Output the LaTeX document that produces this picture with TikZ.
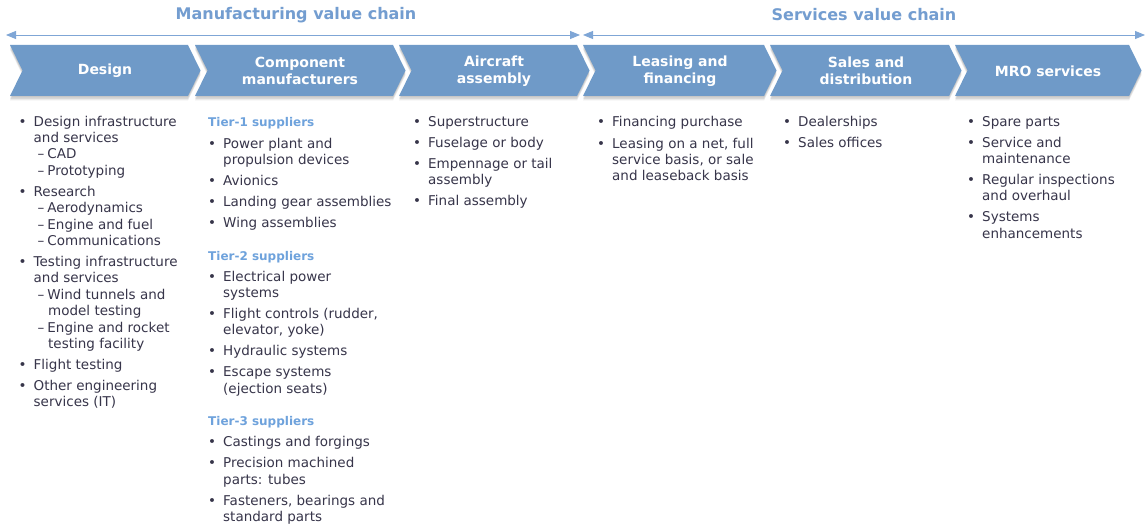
\documentclass[tikz,border=0pt]{standalone}
\usepackage{fontspec}
\setmainfont{DejaVu Sans}
\usetikzlibrary{arrows.meta}
\definecolor{chevblue}{HTML}{6F9AC8}
\definecolor{lineblue}{HTML}{7FA6D6}
\definecolor{titleblue}{HTML}{739DD0}
\definecolor{tierblue}{HTML}{6EA2DC}
\definecolor{bodytext}{HTML}{37354A}
\newcommand\bu{\makebox[15pt][l]{•}}
\newcommand\ind{\hspace*{15pt}}
\newcommand\subi{\hspace*{19pt}–\hspace{3pt}}
\newcommand\subc{\hspace*{29.5pt}}
\newcommand\tier[1]{{\color{tierblue}\fontsize{12}{16.4}\selectfont\bfseries #1}}
\tikzset{
  chevshade/.style={fill=black, fill opacity=0.08},
  chev/.style={fill=chevblue},
  chevlabel/.style={text=white, font=\fontsize{14}{17}\selectfont\bfseries, align=center, inner sep=0pt},
  title/.style={text=titleblue, font=\fontsize{16}{18}\selectfont\bfseries, inner sep=0pt},
  conn/.style={draw=lineblue, line width=0.9pt, {Triangle[length=10pt,width=8pt]}-{Triangle[length=10pt,width=8pt]}},
  col/.style={anchor=north west, align=left, inner sep=0pt, text=bodytext, font=\fontsize{13.5}{16.4}\selectfont}
}
\newcommand\chevpath[3]{\path[#1] (#2,45) -- (#3,45) -- ++(12.5,25.5) -- ++(-12.5,25.5) -- (#2,96) -- ++(12.5,-25.5) -- cycle;}
\begin{document}
\begin{tikzpicture}[x=1pt,y=-1pt]
\useasboundingbox[fill=white] (0,0) rectangle (1147,532);
% titles
\node[title] (mtitle) at (296,15) {Manufacturing value chain};
\node[title] (stitle) at (864,15) {Services value chain};
% arrows
\coordinate (mL) at (6,35);
\coordinate (mR) at (580,35);
\coordinate (sL) at (583,35);
\coordinate (sR) at (1145,35);
\draw[conn] (mL) -- (mR);
\draw[conn] (sL) -- (sR);
% soft shadows below the chevrons
\foreach \s in {1.5,3,4.5}{
  \foreach \a/\b in {10/188,195/393,399/577,583/764,770/949,955/1129}{
    \begin{scope}[yshift=-\s pt]
      \chevpath{chevshade}{\a}{\b}
    \end{scope}
  }
}
\foreach \a/\b in {10/188,195/393,399/577,583/764,770/949,955/1129}{
  \chevpath{chev}{\a}{\b}
}
\node[chevlabel] (design) at (105,71) {Design};
\node[chevlabel] (comp) at (300,71) {Component\\manufacturers};
\node[chevlabel] (assembly) at (494,71) {Aircraft\\assembly};
\node[chevlabel] (leasing) at (680,71) {Leasing and\\financing};
\node[chevlabel] (sales) at (866,71) {Sales and\\distribution};
\node[chevlabel] (mro) at (1048,71) {MRO services};
% column 1
\node[col] (c1) at (18.5,114.5) {\strut\bu Design infrastructure\\
\ind and services\\
\subi CAD\\
\subi Prototyping\\[4.6pt]
\bu Research\\
\subi Aerodynamics\\
\subi Engine and fuel\\
\subi Communications\\[4.6pt]
\bu Testing infrastructure\\
\ind and services\\
\subi Wind tunnels and\\
\subc model testing\\
\subi Engine and rocket\\
\subc testing facility\\[4.6pt]
\bu Flight testing\\[4.6pt]
\bu Other engineering\\
\ind services (IT)};
% column 2
\node[col] (c2) at (208,114.5) {\strut\tier{Tier-1 suppliers}\\[5.6pt]
\bu Power plant and\\
\ind propulsion devices\\[4.6pt]
\bu Avionics\\[4.6pt]
\bu Landing gear assemblies\\[4.6pt]
\bu Wing assemblies\\[16.2pt]
\tier{Tier-2 suppliers}\\[4.6pt]
\bu Electrical power\\
\ind systems\\[4.6pt]
\bu Flight controls (rudder,\\
\ind elevator, yoke)\\[4.6pt]
\bu Hydraulic systems\\[4.6pt]
\bu Escape systems\\
\ind (ejection seats)\\[16.2pt]
\tier{Tier-3 suppliers}\\[4.6pt]
\bu Castings and forgings\\[4.6pt]
\bu Precision machined\\
\ind parts: tubes\\[4.6pt]
\bu Fasteners, bearings and\\
\ind standard parts};
% column 3
\node[col] (c3) at (413,114.5) {\strut\bu Superstructure\\[4.6pt]
\bu Fuselage or body\\[4.6pt]
\bu Empennage or tail\\
\ind assembly\\[4.6pt]
\bu Final assembly};
% column 4
\node[col] (c4) at (597,114.5) {\strut\bu Financing purchase\\[5.6pt]
\bu Leasing on a net, full\\
\ind service basis, or sale\\
\ind and leaseback basis};
% column 5
\node[col] (c5) at (783,114.5) {\strut\bu Dealerships\\[4.6pt]
\bu Sales offices};
% column 6
\node[col] (c6) at (967,114.5) {\strut\bu Spare parts\\[4.6pt]
\bu Service and\\
\ind maintenance\\[4.6pt]
\bu Regular inspections\\
\ind and overhaul\\[4.6pt]
\bu Systems\\
\ind enhancements};
\end{tikzpicture}
\end{document}
